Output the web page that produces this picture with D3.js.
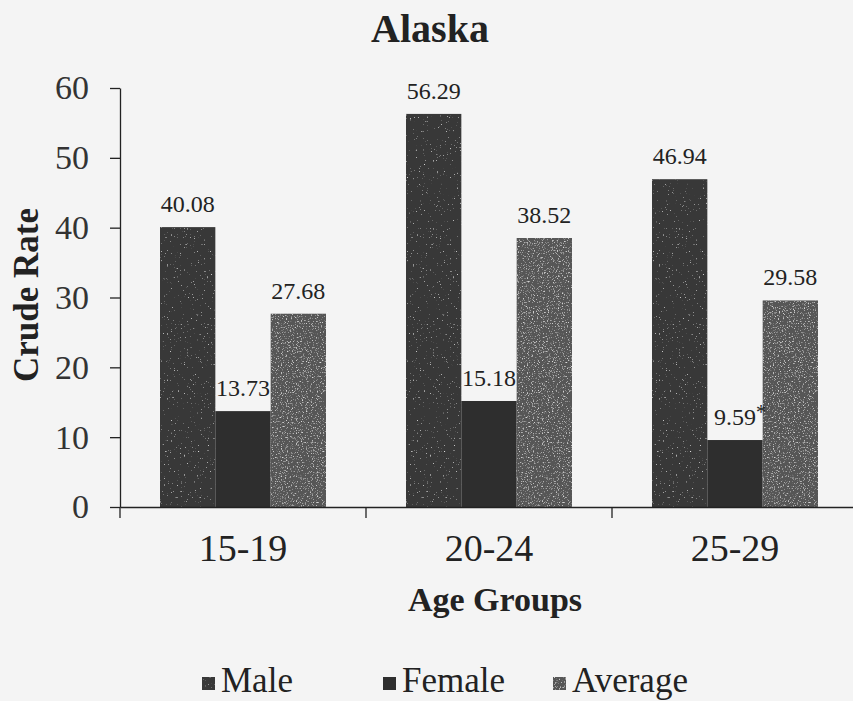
<!DOCTYPE html>
<html>
<head>
<meta charset="utf-8">
<script src="https://cdn.jsdelivr.net/npm/d3@7"></script>
<style>
  html, body { margin: 0; padding: 0; background: #f4f4f4; }
  svg { display: block; }
  svg text { font-family: "Liberation Serif", "Times New Roman", serif; }
</style>
</head>
<body>
<svg id="chart" width="853" height="701"></svg>
<script>
// ---- data ----
const categories = ["15-19", "20-24", "25-29"];
const seriesNames = ["Male", "Female", "Average"];
const maleValues = [40.08, 56.29, 46.94];
const femaleValues = [13.73, 15.18, 9.59];
const averageValues = [27.68, 38.52, 29.58];
const femaleNotes = ["", "", "*"];
const yTicks = [0, 10, 20, 30, 40, 50, 60];

const series = [
  { name: "Male", values: maleValues, notes: ["", "", ""] },
  { name: "Female", values: femaleValues, notes: femaleNotes },
  { name: "Average", values: averageValues, notes: ["", "", ""] }
];

const colors = { Male: "#393939", Female: "#2e2e2e", Average: "#565656" };
const speckle = { Male: "url(#speckLight)", Female: null, Average: "url(#speckHeavy)" };

const svg = d3.select("#chart");

// ---- speckle filters (scanned texture look) ----
const defs = svg.append("defs");
function makeFilter(id, freq, k, b, seed) {
  const f = defs.append("filter").attr("id", id)
    .attr("x", 0).attr("y", 0).attr("width", 1).attr("height", 1);
  f.append("feTurbulence").attr("type", "fractalNoise")
    .attr("baseFrequency", freq).attr("numOctaves", 2).attr("seed", seed).attr("result", "noise");
  f.append("feColorMatrix").attr("in", "noise").attr("type", "matrix")
    .attr("values", `0 0 0 0 0.7  0 0 0 0 0.7  0 0 0 0 0.7  ${k} 0 0 0 ${-b}`)
    .attr("result", "dots");
  f.append("feComposite").attr("in", "dots").attr("in2", "SourceGraphic")
    .attr("operator", "in").attr("result", "clipped");
  const m = f.append("feMerge");
  m.append("feMergeNode").attr("in", "SourceGraphic");
  m.append("feMergeNode").attr("in", "clipped");
}
makeFilter("speckLight", 0.7, 5, 3.5, 4);
makeFilter("speckHeavy", 0.8, 4, 2.3, 7);

// ---- scales ----
const x0 = d3.scaleBand().domain(categories).range([120, 858]).paddingInner(0).paddingOuter(0);
const x1 = d3.scaleBand().domain(seriesNames).range([40, 206]).padding(0);
const y = d3.scaleLinear().domain([0, 60]).range([507, 88]);

// ---- bars ----
const groups = svg.append("g").selectAll("g")
  .data(categories).join("g")
  .attr("transform", d => `translate(${x0(d)},0)`);

series.forEach(s => {
  groups.append("rect")
    .attr("x", x1(s.name))
    .attr("y", (d, i) => y(s.values[i]))
    .attr("width", x1.bandwidth())
    .attr("height", (d, i) => y(0) - y(s.values[i]))
    .attr("fill", colors[s.name])
    .attr("filter", speckle[s.name]);
});

// ---- value labels ----
series.forEach(s => {
  groups.each(function(d, i) {
    const g = d3.select(this);
    const cx = x1(s.name) + x1.bandwidth() / 2;
    const t = g.append("text")
      .attr("x", cx)
      .attr("y", y(s.values[i]) - 15)
      .attr("text-anchor", "middle")
      .style("font-size", "24px")
      .attr("fill", "#222")
      .text(s.values[i].toFixed(2));
    if (s.notes[i]) {
      const w = t.node().getComputedTextLength();
      g.append("text")
        .attr("x", cx + w / 2)
        .attr("y", y(s.values[i]) - 21)
        .style("font-size", "20px")
        .attr("fill", "#222")
        .text(s.notes[i]);
    }
  });
});

// ---- axes ----
const yAxis = svg.append("g")
  .attr("transform", "translate(120,0)")
  .call(d3.axisLeft(y).tickValues(yTicks).tickSize(10).tickPadding(21).tickSizeOuter(0));
yAxis.selectAll("text").style("font-size", "34px").attr("fill", "#333");
yAxis.selectAll("line, path").attr("stroke", "#222").attr("stroke-width", 1.3);

const xAxis = svg.append("g")
  .attr("transform", "translate(0,507)")
  .call(d3.axisBottom(x0).tickSize(0).tickPadding(27).tickSizeOuter(0));
xAxis.selectAll("text").style("font-size", "38px").attr("fill", "#222");
xAxis.select(".domain").attr("stroke", "#222").attr("stroke-width", 1.5);

// boundary tick marks between categories
svg.append("g").selectAll("line")
  .data(categories).join("line")
  .attr("x1", d => x0(d)).attr("x2", d => x0(d))
  .attr("y1", 507).attr("y2", 518)
  .attr("stroke", "#222").attr("stroke-width", 1.3);

// ---- titles ----
svg.append("text")
  .attr("x", 430).attr("y", 42)
  .attr("text-anchor", "middle")
  .style("font-size", "40px").style("font-weight", "bold").attr("fill", "#222")
  .text("Alaska");

svg.append("text")
  .attr("transform", "translate(38,295) rotate(-90)")
  .attr("text-anchor", "middle")
  .style("font-size", "35px").style("font-weight", "bold").attr("fill", "#222")
  .text("Crude Rate");

svg.append("text")
  .attr("x", 495).attr("y", 611)
  .attr("text-anchor", "middle")
  .style("font-size", "34px").style("font-weight", "bold").attr("fill", "#222")
  .text("Age Groups");

// ---- legend ----
const legendX = [202, 383, 553];
const legend = svg.append("g").selectAll("g")
  .data(series).join("g")
  .attr("transform", (d, i) => `translate(${legendX[i]},0)`);
legend.append("rect")
  .attr("x", 0).attr("y", 677).attr("width", 13).attr("height", 13)
  .attr("fill", d => colors[d.name])
  .attr("filter", d => speckle[d.name]);
legend.append("text")
  .attr("x", 19).attr("y", 692)
  .style("font-size", "35px").attr("fill", "#222")
  .text(d => d.name);
</script>
</body>
</html>
